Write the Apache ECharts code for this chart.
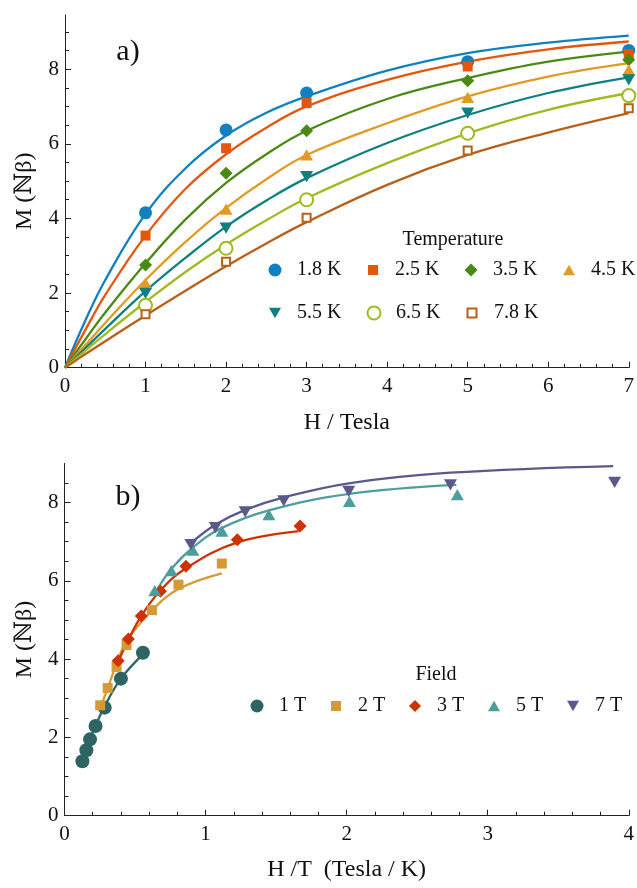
<!DOCTYPE html>
<html>
<head>
<meta charset="utf-8">
<script src="https://cdn.jsdelivr.net/npm/echarts@6/dist/echarts.min.js"></script>
<style>
  html, body { margin: 0; padding: 0; background: #fff; }
  #chart { width: 637px; height: 888px; }
</style>
</head>
<body>
<div id="chart"></div>
<script>
// ---------- panel a) : M vs H at fixed temperature ----------
const fieldsH = [1, 2, 3, 5, 7];
const tempNames = ['1.8 K', '2.5 K', '3.5 K', '4.5 K', '5.5 K', '6.5 K', '7.8 K'];

const m18 = [4.15, 6.37, 7.36, 8.2, 8.5];
const m25 = [3.54, 5.88, 7.09, 8.07, 8.4];
const m35 = [2.75, 5.21, 6.35, 7.69, 8.25];
const m45 = [2.26, 4.25, 5.70, 7.24, 7.98];
const m55 = [1.99, 3.74, 5.12, 6.82, 7.71];
const m65 = [1.67, 3.2, 4.5, 6.28, 7.29];
const m78 = [1.43, 2.84, 4.02, 5.82, 6.95];

// fitted curves
const curveH = [0, 0.25, 0.5, 1, 1.5, 2, 2.5, 3, 4, 5, 6, 7];
const f18 = [0, 1.25, 2.35, 4.12, 5.35, 6.22, 6.83, 7.27, 7.96, 8.43, 8.71, 8.9];
const f25 = [0, 1.0, 1.95, 3.54, 4.8, 5.72, 6.43, 7.0, 7.71, 8.2, 8.53, 8.74];
const f35 = [0, 0.75, 1.48, 2.8, 3.98, 4.95, 5.72, 6.35, 7.2, 7.76, 8.2, 8.47];
const f45 = [0, 0.6, 1.2, 2.35, 3.38, 4.28, 5.05, 5.7, 6.55, 7.27, 7.8, 8.16];
const f55 = [0, 0.52, 1.04, 2.05, 2.95, 3.78, 4.48, 5.08, 6.02, 6.77, 7.36, 7.78];
const f65 = [0, 0.45, 0.9, 1.76, 2.57, 3.3, 3.95, 4.54, 5.48, 6.28, 6.91, 7.36];
const f78 = [0, 0.36, 0.71, 1.4, 2.07, 2.72, 3.33, 3.9, 4.9, 5.7, 6.3, 6.82];

// ---------- panel b) : M vs H/T at fixed field ----------
const fieldNames = ['1 T', '2 T', '3 T', '5 T', '7 T'];

const r1 = [0.127, 0.155, 0.181, 0.22, 0.285, 0.40, 0.556];
const b1 = [1.39, 1.67, 1.95, 2.29, 2.76, 3.50, 4.16];
const r2 = [0.253, 0.306, 0.369, 0.44, 0.62, 0.808, 1.115];
const b2 = [2.82, 3.26, 3.80, 4.36, 5.25, 5.9, 6.44];
const r3 = [0.38, 0.453, 0.544, 0.68, 0.861, 1.225, 1.67];
const b3 = [3.96, 4.51, 5.1, 5.73, 6.37, 7.05, 7.4];
const r5 = [0.64, 0.757, 0.91, 1.116, 1.449, 2.02, 2.785];
const b5 = [5.75, 6.26, 6.78, 7.27, 7.69, 8.03, 8.2];
const r7 = [0.896, 1.069, 1.281, 1.554, 2.015, 2.736, 3.9];
const b7 = [6.92, 7.36, 7.76, 8.04, 8.28, 8.45, 8.51];

const fr1 = [0.127, 0.155, 0.181, 0.22, 0.285, 0.40, 0.556];
const fb1 = [1.4, 1.69, 1.97, 2.3, 2.8, 3.5, 4.12];
const fr2 = [0.253, 0.306, 0.369, 0.44, 0.62, 0.808, 1.115];
const fb2 = [2.74, 3.25, 3.88, 4.45, 5.24, 5.79, 6.19];
const fr3 = [0.38, 0.453, 0.544, 0.68, 0.861, 1.225, 1.66];
const fb3 = [3.92, 4.5, 5.1, 5.75, 6.32, 6.98, 7.27];
const fr5 = [0.641, 0.757, 0.91, 1.116, 1.449, 2.02, 2.778];
const fb5 = [5.68, 6.3, 6.85, 7.35, 7.8, 8.22, 8.45];
const fr7 = [0.896, 1.069, 1.281, 1.554, 2.015, 2.736, 3.89];
const fb7 = [6.96, 7.43, 7.81, 8.13, 8.49, 8.76, 8.93];

// tick values
const yMajor = [0, 2, 4, 6, 8];
const yMinorTop = [0.5, 1, 1.5, 2.5, 3, 3.5, 4.5, 5, 5.5, 6.5, 7, 7.5, 8.5, 9];
const yMinorBot = [0.5, 1, 1.5, 2.5, 3, 3.5, 4.5, 5, 5.5, 6.5, 7, 7.5, 8.5];

// ---------- styling ----------
const FONT = "'Liberation Serif', 'DejaVu Serif', serif";
const TRI_UP = 'path://M5,0L10,8.66L0,8.66Z';
const TRI_DOWN = 'path://M0,0L10,0L5,8.66Z';

const tempColors = ['#1280bf', '#e5560c', '#4a8a14', '#e09b26', '#0f8080', '#9dbb20', '#b8601a'];
const tempSymbols = ['circle', 'rect', 'diamond', TRI_UP, TRI_DOWN, 'emptyCircle', 'emptyRect'];
const tempSizes = [13, 10, 13, 13, 13, 13, 8];
const tempMarks = [m18, m25, m35, m45, m55, m65, m78];
const tempFits = [f18, f25, f35, f45, f55, f65, f78];

const fieldColors = ['#2e6464', '#d49b35', '#cc3300', '#4e9d9d', '#5a598b'];
const fieldSymbols = ['circle', 'rect', 'diamond', TRI_UP, TRI_DOWN];
const fieldSizes = [14, 10, 13, 13, 13];
const fieldR = [r1, r2, r3, r5, r7];
const fieldM = [b1, b2, b3, b5, b7];
const fitR = [fr1, fr2, fr3, fr5, fr7];
const fitM = [fb1, fb2, fb3, fb5, fb7];

const chart = echarts.init(document.getElementById('chart'), null, { renderer: 'canvas' });

function pairs(xs, ys) {
  return xs.map(function (x, i) { return [x, ys[i]]; });
}

function fitLine(data, color, grid) {
  return {
    type: 'line', xAxisIndex: grid, yAxisIndex: grid * 2,
    data: data, showSymbol: false, smooth: 0.4,
    lineStyle: { color: color, width: 2.3 }, silent: true, z: 2
  };
}

function markers(name, data, color, symbol, size, grid) {
  const empty = typeof symbol === 'string' && symbol.indexOf('empty') === 0;
  return {
    name: name, type: 'scatter', xAxisIndex: grid, yAxisIndex: grid * 2,
    data: data, symbol: symbol, symbolSize: size, symbolKeepAspect: true,
    itemStyle: empty
      ? { color: color, borderColor: color, borderWidth: 1.2, opacity: 1 }
      : { color: color, opacity: 1 },
    z: 3
  };
}

const series = [];
tempNames.forEach(function (n, i) {
  series.push(fitLine(pairs(curveH, tempFits[i]), tempColors[i], 0));
});
tempNames.forEach(function (n, i) {
  series.push(markers(n, pairs(fieldsH, tempMarks[i]), tempColors[i], tempSymbols[i], tempSizes[i], 0));
});
fieldNames.forEach(function (n, i) {
  series.push(fitLine(pairs(fitR[i], fitM[i]), fieldColors[i], 1));
});
fieldNames.forEach(function (n, i) {
  series.push(markers(n, pairs(fieldR[i], fieldM[i]), fieldColors[i], fieldSymbols[i], fieldSizes[i], 1));
});

// legends: one component per entry so each sits where the reference has it
const topLegendX = [275, 373, 471, 569, 275, 373, 471];
const topLegendY = [270, 270, 270, 270, 313, 313, 313];
const topLegendH = [13, 10, 13, 12, 12, 13, 9];
const botLegendX = [257, 336, 415, 494, 573];
const botLegendH = [13, 10, 12, 12, 12];

function legendItem(name, cx, cy, h) {
  return {
    data: [name], left: cx - h / 2, top: cy - 10, padding: 0,
    itemWidth: h, itemHeight: h, itemGap: 0, selectedMode: false,
    textStyle: {
      fontFamily: FONT, fontSize: 20, lineHeight: 20, color: '#111',
      padding: [0, 0, 0, 17 - h / 2]
    }
  };
}
const legends = [];
tempNames.forEach(function (n, i) {
  legends.push(legendItem(n, topLegendX[i], topLegendY[i], topLegendH[i]));
});
fieldNames.forEach(function (n, i) {
  legends.push(legendItem(n, botLegendX[i], 706, botLegendH[i]));
});

function xAxis(grid, max, name, gap) {
  return {
    type: 'value', gridIndex: grid, min: 0, max: max, interval: 1,
    name: name, nameLocation: 'middle', nameGap: gap,
    nameTextStyle: { fontFamily: FONT, fontSize: 24, color: '#111' },
    axisLine: { lineStyle: { color: '#222', width: 1 } },
    axisTick: { inside: true, length: 6, lineStyle: { color: '#222' } },
    minorTick: { show: true, splitNumber: 5, length: 4, lineStyle: { color: '#222' } },
    axisLabel: { margin: 8, fontFamily: FONT, fontSize: 21, color: '#111' },
    splitLine: { show: false }
  };
}

function yAxes(grid, max, minor) {
  return [{
    type: 'value', gridIndex: grid, min: 0, max: max, position: 'left',
    name: 'M (ℕβ)', nameLocation: 'middle', nameGap: 28, nameRotate: 90,
    nameTextStyle: { fontFamily: FONT, fontSize: 24, color: '#111' },
    axisLine: { show: true, lineStyle: { color: '#222', width: 1 } },
    axisTick: { show: true, inside: true, length: 6, customValues: yMajor, lineStyle: { color: '#222' } },
    axisLabel: { margin: 6, customValues: yMajor, fontFamily: FONT, fontSize: 21, color: '#111' },
    splitLine: { show: false }
  }, {
    type: 'value', gridIndex: grid, min: 0, max: max, position: 'left',
    axisLine: { show: false },
    axisTick: { show: true, inside: true, length: 4, customValues: minor, lineStyle: { color: '#222' } },
    axisLabel: { show: false },
    splitLine: { show: false }
  }];
}

const option = {
  animation: false,
  backgroundColor: '#fff',
  grid: [
    { left: 65, top: 15, right: 2.2, bottom: 520.3 },
    { left: 64.5, top: 463.3, right: 1.7, bottom: 72.3 }
  ],
  xAxis: [
    xAxis(0, 7, 'H / Tesla', 43),
    xAxis(1, 4, 'H /T  (Tesla / K)', 42)
  ],
  yAxis: yAxes(0, 9.45, yMinorTop).concat(yAxes(1, 9, yMinorBot)),
  legend: legends,
  graphic: [
    { type: 'text', x: 128, y: 52, style: { text: 'a)', font: '30px ' + FONT, fill: '#111',
      align: 'center', verticalAlign: 'middle', textAlign: 'center', textVerticalAlign: 'middle' } },
    { type: 'text', x: 128, y: 497, style: { text: 'b)', font: '30px ' + FONT, fill: '#111',
      align: 'center', verticalAlign: 'middle', textAlign: 'center', textVerticalAlign: 'middle' } },
    { type: 'text', x: 453, y: 240, style: { text: 'Temperature', font: '20px ' + FONT, fill: '#111',
      align: 'center', verticalAlign: 'middle', textAlign: 'center', textVerticalAlign: 'middle' } },
    { type: 'text', x: 436, y: 675, style: { text: 'Field', font: '20px ' + FONT, fill: '#111',
      align: 'center', verticalAlign: 'middle', textAlign: 'center', textVerticalAlign: 'middle' } }
  ],
  series: series
};

chart.setOption(option);
</script>
</body>
</html>
